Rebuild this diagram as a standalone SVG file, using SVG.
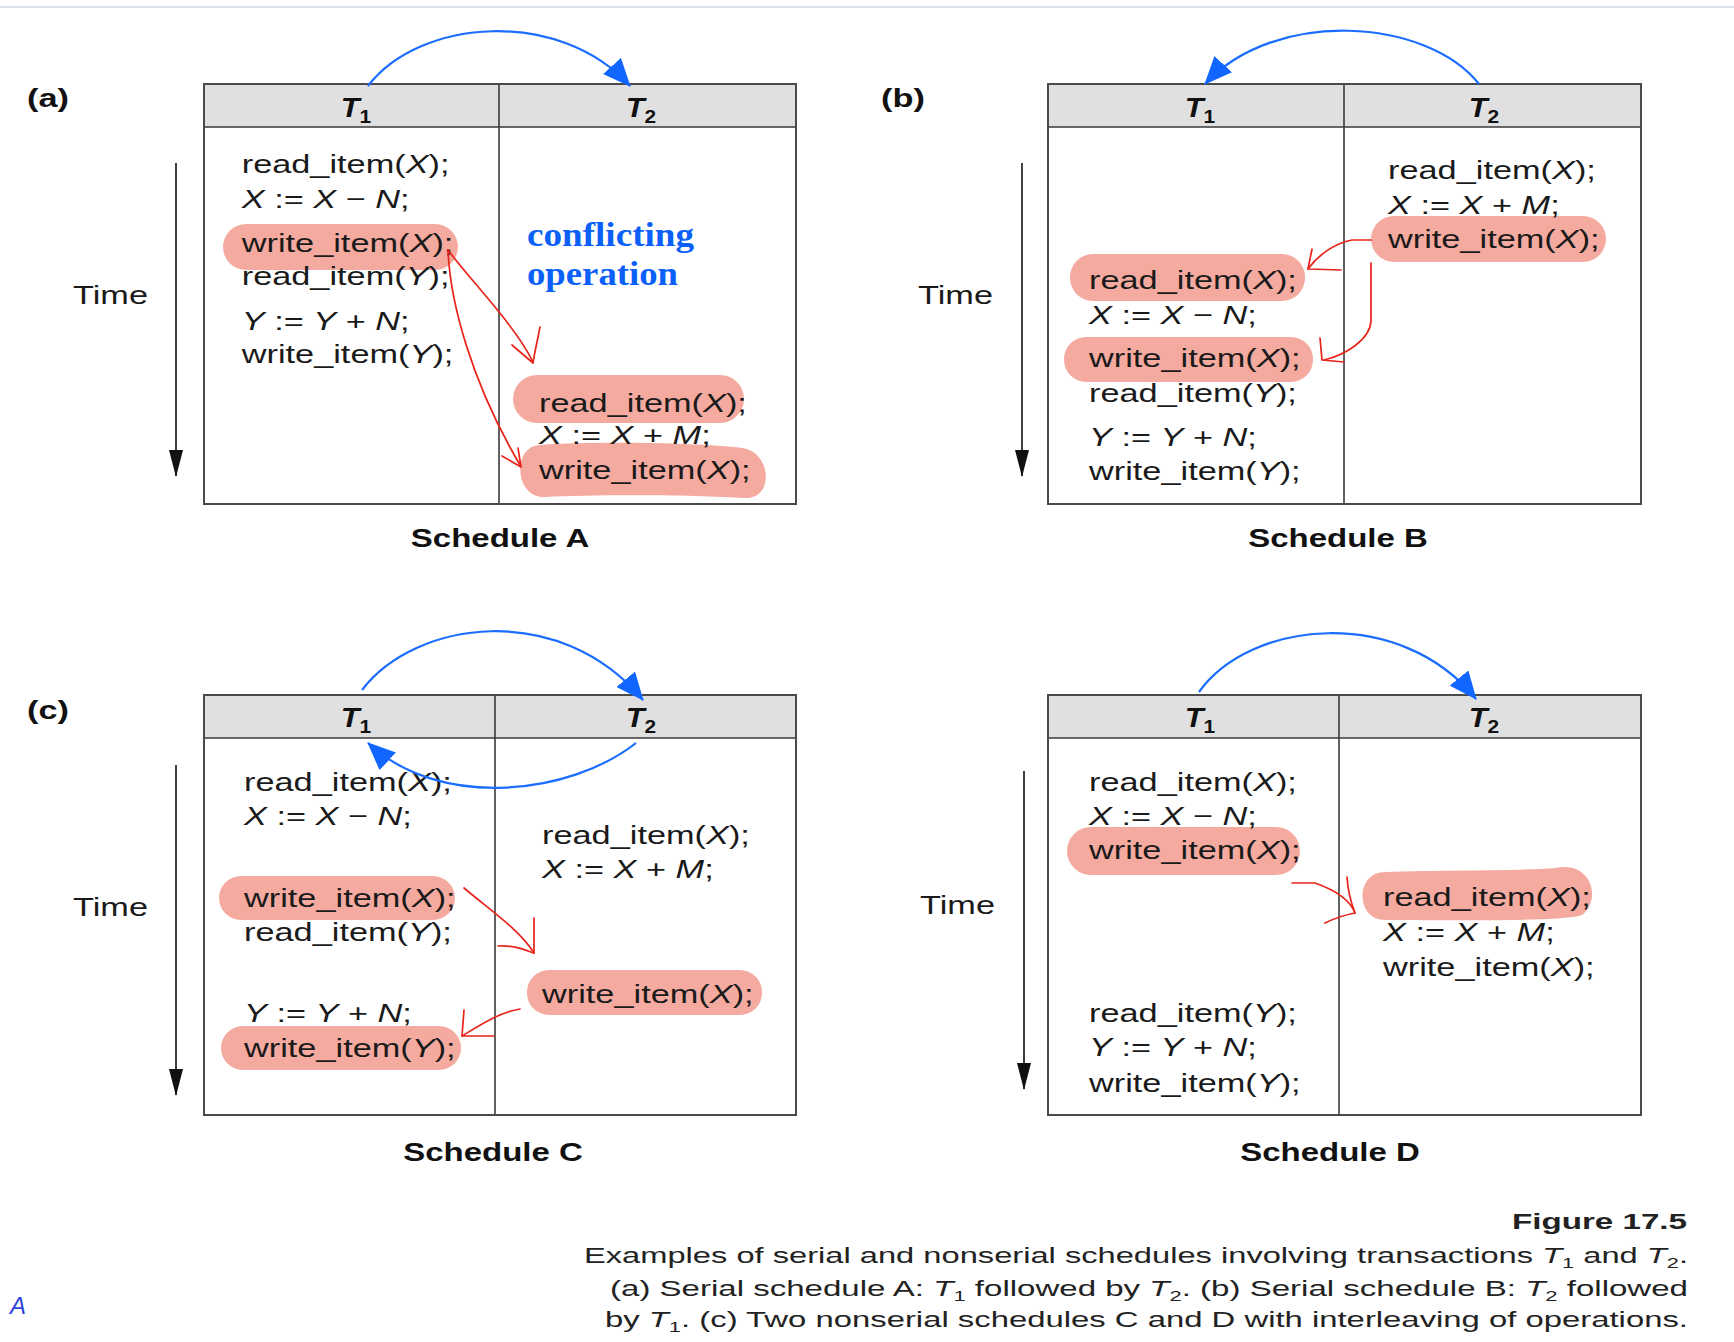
<svg xmlns="http://www.w3.org/2000/svg" width="1734" height="1342" viewBox="0 0 1734 1342">
<style>
.c{font-family:"Liberation Sans",Arial,Helvetica,sans-serif;font-size:26px;fill:#1a1a1a}
.i{font-style:italic}
.b{font-weight:bold}
.th{font-family:"Liberation Sans",Arial,sans-serif;font-size:28px;font-weight:bold;fill:#111;text-anchor:middle}
.th .sub{font-size:19px;font-style:normal}
.lbl{font-family:"Liberation Sans",Arial,sans-serif;font-size:26px;font-weight:bold;fill:#111}
.sch{font-family:"Liberation Sans",Arial,sans-serif;font-size:25px;font-weight:bold;fill:#111;text-anchor:middle}
.cap{font-family:"Liberation Sans",Arial,sans-serif;font-size:22.5px;fill:#222}
.cap .s{font-size:15px;font-style:normal}
.conf{font-family:"Liberation Serif","Times New Roman",serif;font-size:34px;font-weight:bold;fill:#0a60f8}
.hdr{fill:#e0e0e0;stroke:none}
.tbl{fill:none;stroke:#4a4a4a;stroke-width:2}
.div{stroke:#3a3a3a;stroke-width:1.6}
.hl{fill:#f5aaa0}
.tarrow{stroke:#111;stroke-width:1.6;fill:none;marker-end:url(#tm)}
.blue{stroke:#1a6dff;stroke-width:2.2;fill:none;marker-end:url(#bm)}
.red{stroke:#e8241a;stroke-width:1.7;fill:none;stroke-linecap:round;stroke-linejoin:round}
</style>
<defs>
<marker id="tm" markerUnits="userSpaceOnUse" viewBox="0 0 27 14" refX="26" refY="7" markerWidth="27" markerHeight="14" orient="auto">
<path d="M0,0 L27,7 L0,14 Z" fill="#111"/>
</marker>
<marker id="bm" markerUnits="userSpaceOnUse" viewBox="0 0 28 24" refX="27" refY="12" markerWidth="28" markerHeight="24" orient="auto">
<path d="M0,0 L28,12 L0,24 Z" fill="#1166ff"/>
</marker>
</defs>

<line x1="0" y1="7" x2="1734" y2="7" stroke="#cdd6e3" stroke-width="1.5"/>

<!-- Schedule A -->
<g id="schedule-a">
<rect class="hdr" x="204" y="84" width="592" height="43"/>
<line class="div" x1="204" y1="127" x2="796" y2="127"/>
<line class="div" x1="499" y1="84" x2="499" y2="504"/>
<rect class="tbl" x="204" y="84" width="592" height="420"/>
<text class="lbl" transform="matrix(1.32 0 0 1 27 107)">(a)</text>
<text class="th" transform="matrix(1.1 0 0 1 356 117)"><tspan class="i">T</tspan><tspan class="sub" dy="6">1</tspan></text>
<text class="th" transform="matrix(1.1 0 0 1 641 117)"><tspan class="i">T</tspan><tspan class="sub" dy="6">2</tspan></text>
<text class="c" transform="matrix(1.32 0 0 1 73 304)">Time</text>
<line class="tarrow" x1="176" y1="163" x2="176" y2="476"/>
<rect class="hl" x="223" y="224" width="235" height="46" rx="23"/>
<rect class="hl" x="513" y="375" width="231" height="48" rx="24"/>
<path class="hl" d="M540,445 C600,441 700,443 742,448 C772,452 774,499 746,498 C700,495 600,494 545,497 C514,498 512,446 540,445 Z"/>
<text class="c" transform="matrix(1.32 0 0 1 241.7 173)">read_item(<tspan class="i">X</tspan>);</text>
<text class="c" transform="matrix(1.32 0 0 1 241.7 208)"><tspan class="i">X</tspan> := <tspan class="i">X</tspan> − <tspan class="i">N</tspan>;</text>
<text class="c" transform="matrix(1.32 0 0 1 241.7 252)">write_item(<tspan class="i">X</tspan>);</text>
<text class="c" transform="matrix(1.32 0 0 1 241.7 285)">read_item(<tspan class="i">Y</tspan>);</text>
<text class="c" transform="matrix(1.32 0 0 1 241.7 330)"><tspan class="i">Y</tspan> := <tspan class="i">Y</tspan> + <tspan class="i">N</tspan>;</text>
<text class="c" transform="matrix(1.32 0 0 1 241.7 363)">write_item(<tspan class="i">Y</tspan>);</text>
<text class="c" transform="matrix(1.32 0 0 1 539 412)">read_item(<tspan class="i">X</tspan>);</text>
<text class="c" transform="matrix(1.32 0 0 1 539 444)"><tspan class="i">X</tspan> := <tspan class="i">X</tspan> + <tspan class="i">M</tspan>;</text>
<text class="c" transform="matrix(1.32 0 0 1 539 479)">write_item(<tspan class="i">X</tspan>);</text>
<text class="conf" x="527" y="246" textLength="167" lengthAdjust="spacingAndGlyphs">conflicting</text>
<text class="conf" x="527" y="285" textLength="151" lengthAdjust="spacingAndGlyphs">operation</text>
<text class="sch" transform="matrix(1.32 0 0 1 500 547)">Schedule A</text>
</g>

<!-- Schedule B -->
<g id="schedule-b">
<rect class="hdr" x="1048" y="84" width="593" height="43"/>
<line class="div" x1="1048" y1="127" x2="1641" y2="127"/>
<line class="div" x1="1344" y1="84" x2="1344" y2="504"/>
<rect class="tbl" x="1048" y="84" width="593" height="420"/>
<text class="lbl" transform="matrix(1.32 0 0 1 881 107)">(b)</text>
<text class="th" transform="matrix(1.1 0 0 1 1200 117)"><tspan class="i">T</tspan><tspan class="sub" dy="6">1</tspan></text>
<text class="th" transform="matrix(1.1 0 0 1 1484 117)"><tspan class="i">T</tspan><tspan class="sub" dy="6">2</tspan></text>
<text class="c" transform="matrix(1.32 0 0 1 918 304)">Time</text>
<line class="tarrow" x1="1022" y1="163" x2="1022" y2="476"/>
<rect class="hl" x="1371" y="216" width="235" height="46" rx="23"/>
<rect class="hl" x="1070" y="254" width="235" height="47" rx="23"/>
<rect class="hl" x="1064" y="337" width="249" height="45" rx="22"/>
<text class="c" transform="matrix(1.32 0 0 1 1388 179)">read_item(<tspan class="i">X</tspan>);</text>
<text class="c" transform="matrix(1.32 0 0 1 1388 214)"><tspan class="i">X</tspan> := <tspan class="i">X</tspan> + <tspan class="i">M</tspan>;</text>
<text class="c" transform="matrix(1.32 0 0 1 1388 248)">write_item(<tspan class="i">X</tspan>);</text>
<text class="c" transform="matrix(1.32 0 0 1 1089 289)">read_item(<tspan class="i">X</tspan>);</text>
<text class="c" transform="matrix(1.32 0 0 1 1089 324)"><tspan class="i">X</tspan> := <tspan class="i">X</tspan> − <tspan class="i">N</tspan>;</text>
<text class="c" transform="matrix(1.32 0 0 1 1089 367)">write_item(<tspan class="i">X</tspan>);</text>
<text class="c" transform="matrix(1.32 0 0 1 1089 402)">read_item(<tspan class="i">Y</tspan>);</text>
<text class="c" transform="matrix(1.32 0 0 1 1089 446)"><tspan class="i">Y</tspan> := <tspan class="i">Y</tspan> + <tspan class="i">N</tspan>;</text>
<text class="c" transform="matrix(1.32 0 0 1 1089 480)">write_item(<tspan class="i">Y</tspan>);</text>
<text class="sch" transform="matrix(1.32 0 0 1 1338 547)">Schedule B</text>
</g>

<!-- Schedule C -->
<g id="schedule-c">
<rect class="hdr" x="204" y="695" width="592" height="43"/>
<line class="div" x1="204" y1="738" x2="796" y2="738"/>
<line class="div" x1="495" y1="695" x2="495" y2="1115"/>
<rect class="tbl" x="204" y="695" width="592" height="420"/>
<text class="lbl" transform="matrix(1.32 0 0 1 27 719)">(c)</text>
<text class="th" transform="matrix(1.1 0 0 1 356 727)"><tspan class="i">T</tspan><tspan class="sub" dy="6">1</tspan></text>
<text class="th" transform="matrix(1.1 0 0 1 641 727)"><tspan class="i">T</tspan><tspan class="sub" dy="6">2</tspan></text>
<text class="c" transform="matrix(1.32 0 0 1 73 916)">Time</text>
<line class="tarrow" x1="176" y1="765" x2="176" y2="1095"/>
<rect class="hl" x="219" y="876" width="236" height="44" rx="22"/>
<rect class="hl" x="221" y="1026" width="240" height="44" rx="22"/>
<rect class="hl" x="527" y="970" width="235" height="45" rx="22"/>
<text class="c" transform="matrix(1.32 0 0 1 244 791)">read_item(<tspan class="i">X</tspan>);</text>
<text class="c" transform="matrix(1.32 0 0 1 244 825)"><tspan class="i">X</tspan> := <tspan class="i">X</tspan> − <tspan class="i">N</tspan>;</text>
<text class="c" transform="matrix(1.32 0 0 1 244 907)">write_item(<tspan class="i">X</tspan>);</text>
<text class="c" transform="matrix(1.32 0 0 1 244 941)">read_item(<tspan class="i">Y</tspan>);</text>
<text class="c" transform="matrix(1.32 0 0 1 244 1022)"><tspan class="i">Y</tspan> := <tspan class="i">Y</tspan> + <tspan class="i">N</tspan>;</text>
<text class="c" transform="matrix(1.32 0 0 1 244 1057)">write_item(<tspan class="i">Y</tspan>);</text>
<text class="c" transform="matrix(1.32 0 0 1 542 844)">read_item(<tspan class="i">X</tspan>);</text>
<text class="c" transform="matrix(1.32 0 0 1 542 878)"><tspan class="i">X</tspan> := <tspan class="i">X</tspan> + <tspan class="i">M</tspan>;</text>
<text class="c" transform="matrix(1.32 0 0 1 542 1003)">write_item(<tspan class="i">X</tspan>);</text>
<text class="sch" transform="matrix(1.32 0 0 1 493 1161)">Schedule C</text>
</g>

<!-- Schedule D -->
<g id="schedule-d">
<rect class="hdr" x="1048" y="695" width="593" height="43"/>
<line class="div" x1="1048" y1="738" x2="1641" y2="738"/>
<line class="div" x1="1339" y1="695" x2="1339" y2="1115"/>
<rect class="tbl" x="1048" y="695" width="593" height="420"/>
<text class="th" transform="matrix(1.1 0 0 1 1200 727)"><tspan class="i">T</tspan><tspan class="sub" dy="6">1</tspan></text>
<text class="th" transform="matrix(1.1 0 0 1 1484 727)"><tspan class="i">T</tspan><tspan class="sub" dy="6">2</tspan></text>
<text class="c" transform="matrix(1.32 0 0 1 920 914)">Time</text>
<line class="tarrow" x1="1024" y1="771" x2="1024" y2="1089"/>
<rect class="hl" x="1067" y="827" width="233" height="48" rx="24"/>
<path class="hl" d="M1385,872 C1450,870 1520,871 1555,868 C1592,860 1602,900 1582,915 C1562,922 1450,920 1385,920 C1355,920 1355,872 1385,872 Z"/>
<text class="c" transform="matrix(1.32 0 0 1 1089 791)">read_item(<tspan class="i">X</tspan>);</text>
<text class="c" transform="matrix(1.32 0 0 1 1089 825)"><tspan class="i">X</tspan> := <tspan class="i">X</tspan> − <tspan class="i">N</tspan>;</text>
<text class="c" transform="matrix(1.32 0 0 1 1089 859)">write_item(<tspan class="i">X</tspan>);</text>
<text class="c" transform="matrix(1.32 0 0 1 1089 1022)">read_item(<tspan class="i">Y</tspan>);</text>
<text class="c" transform="matrix(1.32 0 0 1 1089 1056)"><tspan class="i">Y</tspan> := <tspan class="i">Y</tspan> + <tspan class="i">N</tspan>;</text>
<text class="c" transform="matrix(1.32 0 0 1 1089 1092)">write_item(<tspan class="i">Y</tspan>);</text>
<text class="c" transform="matrix(1.32 0 0 1 1383 906)">read_item(<tspan class="i">X</tspan>);</text>
<text class="c" transform="matrix(1.32 0 0 1 1383 941)"><tspan class="i">X</tspan> := <tspan class="i">X</tspan> + <tspan class="i">M</tspan>;</text>
<text class="c" transform="matrix(1.32 0 0 1 1383 976)">write_item(<tspan class="i">X</tspan>);</text>
<text class="sch" transform="matrix(1.32 0 0 1 1330 1161)">Schedule D</text>
</g>

<!-- Connectors -->
<g id="connectors">
<path class="blue" d="M368,86 C420,18 560,8 630,86"/>
<path class="blue" d="M1479,84 C1427,18 1275,8 1205,84"/>
<path class="blue" d="M362,690 C415,620 560,600 643,700"/>
<path class="blue" d="M636,743 C570,795 440,810 368,743"/>
<path class="blue" d="M1199,692 C1250,620 1400,605 1476,699"/>

<path class="red" d="M448,250 C470,280 515,325 533,362"/>
<path class="red" d="M512,345 L533,363 C535,350 538,338 540,327"/>
<path class="red" d="M448,250 C450,300 470,380 520,465"/>
<path class="red" d="M502,456 L521,467 L518,448"/>

<path class="red" d="M1371,240 L1352,240 C1335,243 1318,255 1308,269"/>
<path class="red" d="M1341,270 L1308,269 L1312,249"/>
<path class="red" d="M1371,263 L1371,321 C1370,340 1345,355 1324,360"/>
<path class="red" d="M1320,338 L1322,360 L1344,362"/>

<path class="red" d="M464,888 C490,910 520,930 534,953"/>
<path class="red" d="M498,946 C515,945 525,950 534,953 L534,918"/>
<path class="red" d="M520,1009 C500,1012 480,1025 462,1036"/>
<path class="red" d="M464,1010 L462,1036 L494,1036"/>

<path class="red" d="M1292,883 L1315,883 C1335,890 1350,900 1355,913"/>
<path class="red" d="M1347,877 C1348,895 1352,905 1355,913 C1345,915 1335,918 1325,923"/>
</g>

<!-- Caption -->
<g id="caption">
<text class="cap b" x="1512" y="1229" font-size="24" textLength="175" lengthAdjust="spacingAndGlyphs">Figure 17.5</text>
<text class="cap" x="584" y="1263" textLength="1104" lengthAdjust="spacingAndGlyphs">Examples of serial and nonserial schedules involving transactions <tspan class="i">T</tspan><tspan class="s" dy="5">1</tspan><tspan dy="-5"> and </tspan><tspan class="i">T</tspan><tspan class="s" dy="5">2</tspan><tspan dy="-5">.</tspan></text>
<text class="cap" x="610" y="1296" textLength="1078" lengthAdjust="spacingAndGlyphs">(a) Serial schedule A: <tspan class="i">T</tspan><tspan class="s" dy="5">1</tspan><tspan dy="-5"> followed by </tspan><tspan class="i">T</tspan><tspan class="s" dy="5">2</tspan><tspan dy="-5">. (b) Serial schedule B: </tspan><tspan class="i">T</tspan><tspan class="s" dy="5">2</tspan><tspan dy="-5"> followed</tspan></text>
<text class="cap" x="605" y="1327" textLength="1083" lengthAdjust="spacingAndGlyphs">by <tspan class="i">T</tspan><tspan class="s" dy="5">1</tspan><tspan dy="-5">. (c) Two nonserial schedules C and D with interleaving of operations.</tspan></text>
<text x="10" y="1314" font-family="Liberation Sans, sans-serif" font-size="24" font-style="italic" fill="#3344dd">A</text>
</g>
</svg>
